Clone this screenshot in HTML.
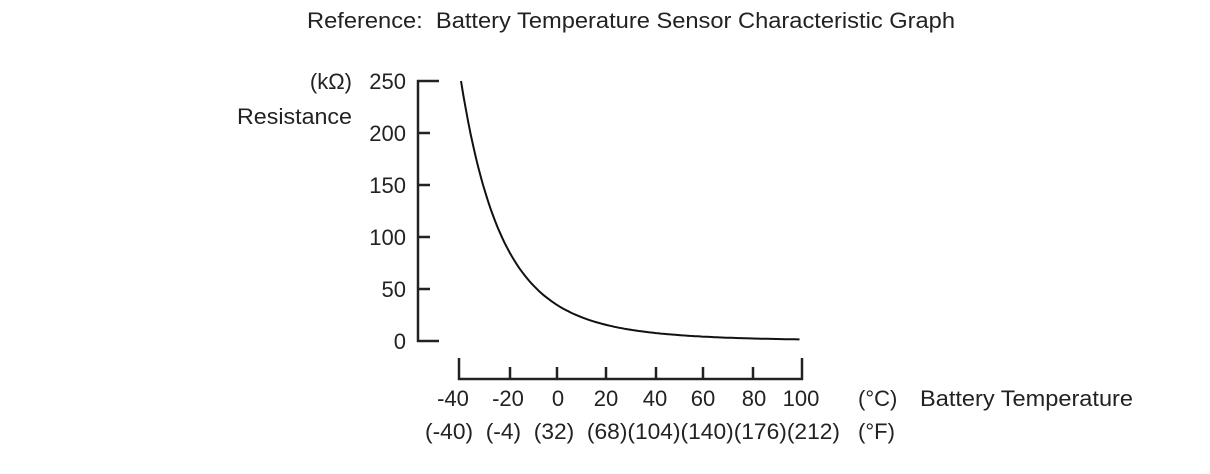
<!DOCTYPE html>
<html><head><meta charset="utf-8"><style>
html,body{margin:0;padding:0;background:#fff;}
svg{display:block;}
text{font-family:"Liberation Sans",sans-serif;font-size:22px;fill:#222;}
</style></head><body>
<svg width="1210" height="474" viewBox="0 0 1210 474" xmlns="http://www.w3.org/2000/svg">
<text x="307" y="28" textLength="648" lengthAdjust="spacingAndGlyphs" xml:space="preserve">Reference:  Battery Temperature Sensor Characteristic Graph</text>
<g stroke="#222" stroke-width="2.5" fill="none">
<line x1="418" y1="80" x2="418" y2="342"/>
<line x1="417" y1="81" x2="439" y2="81"/>
<line x1="417" y1="133" x2="430" y2="133"/>
<line x1="417" y1="185" x2="430" y2="185"/>
<line x1="417" y1="237" x2="430" y2="237"/>
<line x1="417" y1="289" x2="430" y2="289"/>
<line x1="417" y1="341" x2="439" y2="341"/>
<line x1="458" y1="379" x2="803" y2="379"/>
<line x1="459" y1="358" x2="459" y2="380"/>
<line x1="802" y1="358" x2="802" y2="380"/>
<line x1="510" y1="367" x2="510" y2="380"/>
<line x1="557" y1="367" x2="557" y2="380"/>
<line x1="606" y1="367" x2="606" y2="380"/>
<line x1="656" y1="367" x2="656" y2="380"/>
<line x1="703" y1="367" x2="703" y2="380"/>
<line x1="753" y1="367" x2="753" y2="380"/>
</g>
<path id="c" stroke="#111" stroke-width="2" fill="none" d=""/>
<g text-anchor="end">
<text x="406" y="89">250</text>
<text x="406" y="141">200</text>
<text x="406" y="193">150</text>
<text x="406" y="245">100</text>
<text x="406" y="297">50</text>
<text x="406" y="349">0</text>
<text x="352" y="89">(kΩ)</text>
</g>
<text x="237" y="124" textLength="115" lengthAdjust="spacingAndGlyphs">Resistance</text>
<g text-anchor="middle">
<text x="453" y="406">-40</text>
<text x="508" y="406">-20</text>
<text x="558" y="406">0</text>
<text x="606" y="406">20</text>
<text x="655" y="406">40</text>
<text x="703" y="406">60</text>
<text x="754" y="406">80</text>
<text x="801" y="406">100</text>
</g>
<text x="425" y="439" textLength="415" lengthAdjust="spacingAndGlyphs" xml:space="preserve">(-40)  (-4)  (32)  (68)(104)(140)(176)(212)</text>
<text x="858" y="406">(°C)</text>
<text x="858" y="439">(°F)</text>
<text x="920" y="406" textLength="213" lengthAdjust="spacingAndGlyphs">Battery Temperature</text>
</svg>
<script>
var d="";
for(var t=-39.2;t<=100.01;t+=1){
 var R=250*Math.exp(-3200*(1/233.8-1/(273+t)));
 var x=461+(t+39.2)*(800-461)/139.2;
 var y=341-R/250*260;
 d+=(d?"L":"M")+x.toFixed(1)+","+y.toFixed(1);
}
document.getElementById("c").setAttribute("d",d);
</script>
</body></html>
